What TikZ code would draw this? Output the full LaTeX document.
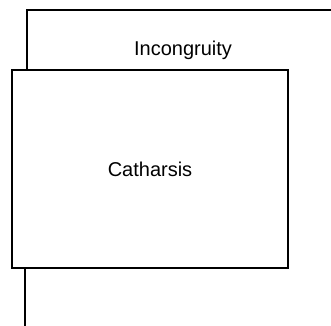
\documentclass[tikz,border=0pt]{standalone}
\usepackage{fontspec}
\setmainfont{Liberation Sans}
\begin{document}
\begin{tikzpicture}[x=1pt,y=-1pt,
  frameline/.style={line width=1.3pt, line cap=rect},
  boxstyle/.style={draw, line width=1.3pt, rectangle, inner sep=0pt,
    minimum width=276pt, minimum height=198pt},
  labelstyle/.style={font=\fontsize{20}{24}\selectfont}]
\useasboundingbox (0,0) rectangle (331,325);
\coordinate (tl) at (27,10);
\coordinate (tr) at (331,10);
\node[boxstyle, labelstyle] (cath) at (150,169) {Catharsis};
\node[labelstyle, anchor=base, inner sep=0pt] (inc) at (183,55) {Incongruity};
\coordinate (bot) at (25,325);
\draw[frameline] (tr) -- (tl) -- (tl |- cath.north);
\draw[frameline] (bot |- cath.south) -- (bot);
\end{tikzpicture}
\end{document}
